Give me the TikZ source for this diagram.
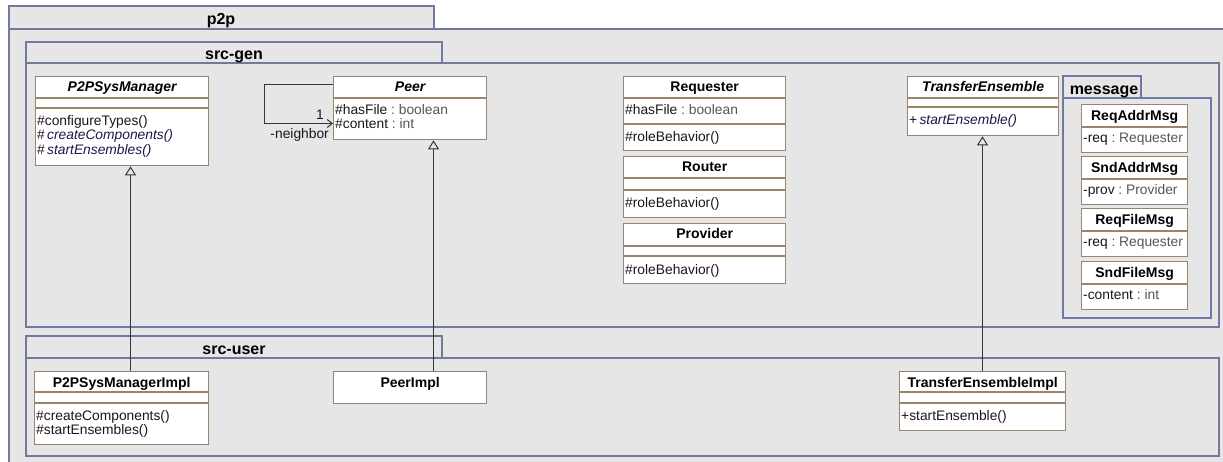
\documentclass[tikz,border=0pt]{standalone}
\usepackage{fontspec}
\setmainfont{Liberation Sans}
\usetikzlibrary{arrows.meta}

\definecolor{pkgfill}{RGB}{230,230,230}
\definecolor{pkgline}{RGB}{112,122,160}
\definecolor{classline}{RGB}{155,132,110}
\definecolor{conn}{RGB}{55,55,55}
\definecolor{memb}{RGB}{30,20,30}
\definecolor{typecol}{RGB}{85,85,85}
\definecolor{opcol}{RGB}{25,25,70}

\frenchspacing
\begin{document}
\begin{tikzpicture}[x=1pt, y=-1pt,
    pkg/.style={draw=pkgline, fill=pkgfill, line width=1.3pt},
    pkgname/.style={font=\fontsize{16}{18}\selectfont\bfseries, inner sep=0pt, anchor=base},
    classbox/.style={draw=classline, fill=white, line width=1.3pt, anchor=north west, inner sep=0pt},
    sep/.style={draw=classline, line width=1.2pt},
    cname/.style={font=\fontsize{14}{16}\selectfont\bfseries, inner sep=0pt, anchor=base},
    member/.style={font=\fontsize{13.8}{16}\selectfont, inner sep=0pt, anchor=base west, text=memb},
    inherit/.style={draw=conn, line width=1pt, -{Triangle[open, length=9pt, width=11pt]}},
    assoc/.style={draw=conn, line width=1pt, -{Straight Barb[length=5pt, width=8pt]}}]

\useasboundingbox (0,0) rectangle (1223,462);
\clip (0,0) rectangle (1223,462);
\fill[white] (0,0) rectangle (1223,462);

% packages
\filldraw[pkg] (9,6) rectangle (434,29);
\filldraw[pkg] (9,29) rectangle (1240,480);
\node[pkgname] (p2p) at (221,25) {p2p};

\filldraw[pkg] (26,42) rectangle (442,63);
\filldraw[pkg] (26,63) rectangle (1219,327);
\node[pkgname] (srcgen) at (234,60) {src-gen};

\filldraw[pkg] (26,336) rectangle (442,358);
\filldraw[pkg] (26,358) rectangle (1219,456);
\node[pkgname] (srcuser) at (234,354) {src-user};

\filldraw[pkg] (1063,76) rectangle (1141,98);
\filldraw[pkg] (1063,98) rectangle (1211,318);
\node[pkgname] (message) at (1104,95) {message};

% src-gen
\node[classbox, minimum width=173, minimum height=89] (mgr) at (35,76) {};
\draw[sep] ([yshift=-22]mgr.north west) -- ([yshift=-22]mgr.north east);
\draw[sep] ([yshift=-32]mgr.north west) -- ([yshift=-32]mgr.north east);
\node[cname] (mgrname) at ([yshift=-16]mgr.north) {\itshape P2PSysManager};
\node[member] (mgrop1) at ([xshift=2,yshift=-49.5]mgr.north west) {\#configureTypes()};
\node[member] (mgrop2) at ([xshift=2,yshift=-64]mgr.north west) {\#\,\textcolor{opcol}{\itshape createComponents()}};
\node[member] (mgrop3) at ([xshift=2,yshift=-78.5]mgr.north west) {\#\,\textcolor{opcol}{\itshape startEnsembles()}};

\node[classbox, minimum width=153, minimum height=63] (peer) at (333,76) {};
\draw[sep] ([yshift=-22]peer.north west) -- ([yshift=-22]peer.north east);
\node[cname] (peername) at ([yshift=-16]peer.north) {\itshape Peer};
\node[member] (peerat1) at ([xshift=2,yshift=-39]peer.north west) {\#hasFile \textcolor{typecol}{: boolean}};
\node[member] (peerat2) at ([xshift=2,yshift=-53]peer.north west) {\#content \textcolor{typecol}{: int}};

\draw[assoc] ([yshift=-8.5]peer.north west) -- ++(-68.5,0) |- ([yshift=-47.5]peer.north west);
\node[member, anchor=base] (mult) at (320,120) {1};
\node[member, anchor=base east] (role) at (329,139) {-neighbor};

\node[classbox, minimum width=162, minimum height=74] (req) at (623,76) {};
\draw[sep] ([yshift=-22]req.north west) -- ([yshift=-22]req.north east);
\draw[sep] ([yshift=-48]req.north west) -- ([yshift=-48]req.north east);
\node[cname] (reqname) at ([yshift=-16]req.north) {Requester};
\node[member] (reqat1) at ([xshift=2,yshift=-39]req.north west) {\#hasFile \textcolor{typecol}{: boolean}};
\node[member] (reqop1) at ([xshift=2,yshift=-66]req.north west) {\#roleBehavior()};

\node[classbox, minimum width=162, minimum height=61] (router) at (623,156) {};
\draw[sep] ([yshift=-22]router.north west) -- ([yshift=-22]router.north east);
\draw[sep] ([yshift=-34]router.north west) -- ([yshift=-34]router.north east);
\node[cname] (routername) at ([yshift=-16]router.north) {Router};
\node[member] (routerop1) at ([xshift=2,yshift=-52]router.north west) {\#roleBehavior()};

\node[classbox, minimum width=162, minimum height=60] (prov) at (623,223) {};
\draw[sep] ([yshift=-23]prov.north west) -- ([yshift=-23]prov.north east);
\draw[sep] ([yshift=-33]prov.north west) -- ([yshift=-33]prov.north east);
\node[cname] (provname) at ([yshift=-16]prov.north) {Provider};
\node[member] (provop1) at ([xshift=2,yshift=-52]prov.north west) {\#roleBehavior()};

\node[classbox, minimum width=151, minimum height=59] (te) at (907,76) {};
\draw[sep] ([yshift=-22]te.north west) -- ([yshift=-22]te.north east);
\draw[sep] ([yshift=-31]te.north west) -- ([yshift=-31]te.north east);
\node[cname] (tename) at ([yshift=-15.5]te.north) {\itshape TransferEnsemble};
\node[member] (teop1) at ([xshift=2,yshift=-49]te.north west) {+\,\textcolor{opcol}{\itshape startEnsemble()}};

% message
\foreach \nm/\y/\title/\attr/\type in {reqaddr/104/ReqAddrMsg/-req/Requester, sndaddr/156/SndAddrMsg/-prov/Provider, reqfile/208/ReqFileMsg/-req/Requester, sndfile/261/SndFileMsg/-content/int}
{
    \node[classbox, minimum width=106, minimum height=48] (\nm) at (1081,\y) {};
    \draw[sep] ([yshift=-23]\nm.north west) -- ([yshift=-23]\nm.north east);
    \node[cname] (\nm-name) at ([yshift=-16.5]\nm.north) {\title};
    \node[member] (\nm-attr) at ([xshift=2,yshift=-38.5]\nm.north west) {\attr\ \textcolor{typecol}{: \type}};
}

% src-user
\node[classbox, minimum width=174, minimum height=73] (mgrimpl) at (34,371) {};
\draw[sep] ([yshift=-21]mgrimpl.north west) -- ([yshift=-21]mgrimpl.north east);
\draw[sep] ([yshift=-32]mgrimpl.north west) -- ([yshift=-32]mgrimpl.north east);
\node[cname] (mgrimplname) at ([yshift=-16]mgrimpl.north) {P2PSysManagerImpl};
\node[member] (mgrimplop1) at ([xshift=2,yshift=-49]mgrimpl.north west) {\#createComponents()};
\node[member] (mgrimplop2) at ([xshift=2,yshift=-63]mgrimpl.north west) {\#startEnsembles()};

\node[classbox, minimum width=153, minimum height=32] (peerimpl) at (333,371) {};
\node[cname] (peerimplname) at ([yshift=-16]peerimpl.north) {PeerImpl};

\node[classbox, minimum width=166, minimum height=59] (teimpl) at (899,371) {};
\draw[sep] ([yshift=-21]teimpl.north west) -- ([yshift=-21]teimpl.north east);
\draw[sep] ([yshift=-32]teimpl.north west) -- ([yshift=-32]teimpl.north east);
\node[cname] (teimplname) at ([yshift=-16.5]teimpl.north) {TransferEnsembleImpl};
\node[member] (teimplop1) at ([xshift=2,yshift=-49]teimpl.north west) {+startEnsemble()};

% generalizations
\coordinate (mgrx) at (130.5,0);
\coordinate (peerx) at (433.5,0);
\coordinate (tex) at (982.5,0);
\draw[inherit] (mgrimpl.north -| mgrx) -- (mgr.south -| mgrx);
\draw[inherit] (peerimpl.north -| peerx) -- (peer.south -| peerx);
\draw[inherit] (teimpl.north -| tex) -- (te.south -| tex);

\end{tikzpicture}
\end{document}
